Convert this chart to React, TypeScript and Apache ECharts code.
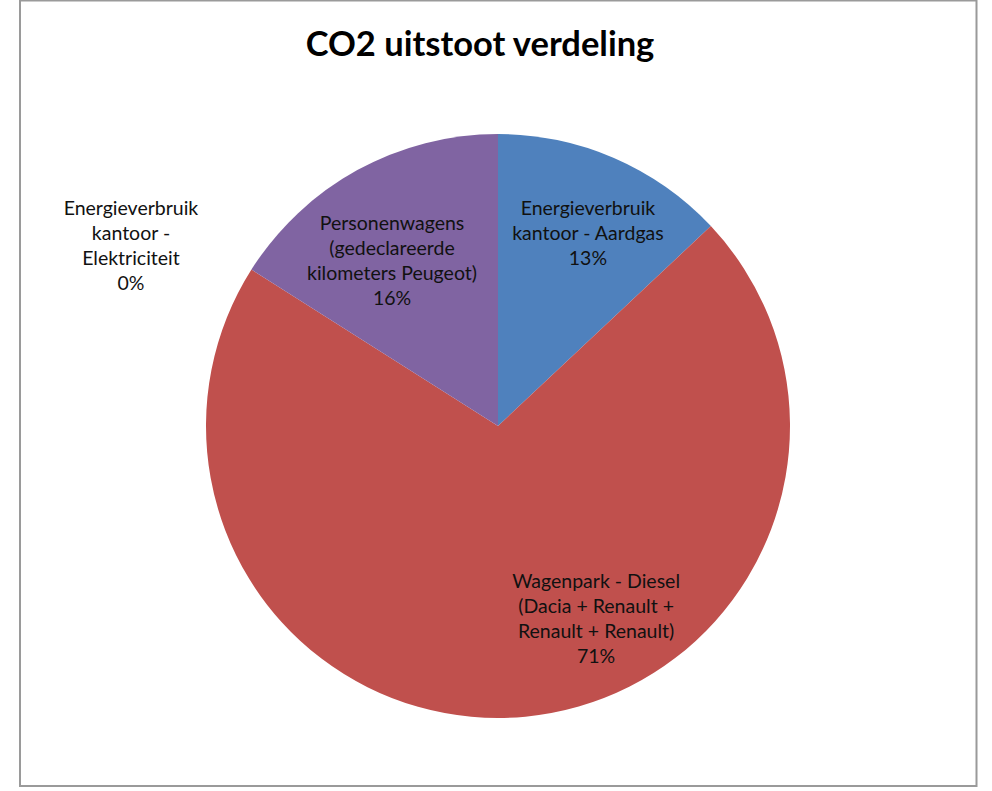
import React, { useEffect, useRef } from "react";
import * as echarts from "echarts";

const title = "CO2 uitstoot verdeling";
const categories = [
  "Energieverbruik\nkantoor - Aardgas",
  "Wagenpark - Diesel\n(Dacia + Renault +\nRenault + Renault)",
  "Energieverbruik\nkantoor -\nElektriciteit",
  "Personenwagens\n(gedeclareerde\nkilometers Peugeot)",
];
const values = [13, 71, 0, 16];
const colors = ["#4F81BD", "#C0504D", "#7F62A0", "#8064A2"];

// label anchor offsets, in units of the pie radius, relative to the pie centre
const labelOffsets = [
  [0.308, -0.661],
  [0.336, 0.658],
  [-1.257, -0.62],
  [-0.363, -0.568],
];

const CX = 498;
const CY = 426;
const R = 292;

export default function App() {
  const ref = useRef<HTMLDivElement>(null);
  useEffect(() => {
    document.body.style.margin = "0";
    const chart = echarts.init(ref.current!, null, { renderer: "svg" });
    chart.setOption({
      animation: false,
      backgroundColor: "#ffffff",
      title: {
        text: title,
        left: 475,
        top: 20,
        textAlign: "center",
        textStyle: {
          fontFamily: "Lato",
          fontWeight: "bold",
          fontSize: 34.5,
          color: "#000000",
        },
      },
      graphic: [
        {
          type: "rect",
          shape: { x: 20, y: 0.5, width: 956.5, height: 785.5 },
          style: { fill: "none", stroke: "#9a9a9a", lineWidth: 2 },
          silent: true,
        },
      ],
      series: [
        {
          type: "pie",
          center: [CX, CY],
          radius: R,
          startAngle: 90,
          clockwise: true,
          avoidLabelOverlap: false,
          minShowLabelAngle: 0,
          data: categories.map((name, i) => ({
            name,
            value: values[i],
            itemStyle: { color: colors[i] },
          })),
          label: {
            show: true,
            position: "inside",
            fontFamily: "Lato",
            fontSize: 19.5,
            lineHeight: 25,
            color: "#111111",
            align: "center",
            formatter: (p: any) => `${p.name}\n${Math.round(p.percent)}%`,
          },
          labelLine: { show: false },
          labelLayout: (p: any) => {
            const o = labelOffsets[p.dataIndex];
            return {
              x: CX + o[0] * R,
              y: CY + o[1] * R,
              align: "center",
              verticalAlign: "middle",
            };
          },
          emphasis: { disabled: true },
        },
      ],
    });
    return () => chart.dispose();
  }, []);
  return <div ref={ref} style={{ width: 992, height: 791 }} />;
}
